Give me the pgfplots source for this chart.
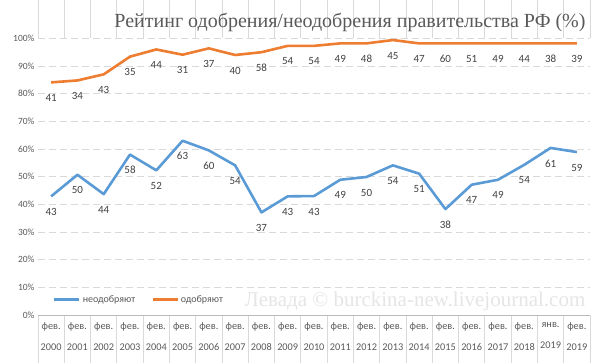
\documentclass[border=0pt]{standalone}
\usepackage{pgfplots}
\pgfplotsset{compat=1.18}
\usepackage{pgfplotstable}
\usetikzlibrary{calc}
\usepackage{fontspec}
\setmainfont{Carlito}
\newfontfamily\titlefont{Liberation Serif}
\definecolor{cblue}{HTML}{5B9BD5}
\definecolor{corange}{HTML}{ED7D31}
\definecolor{txt}{HTML}{595959}
\definecolor{lbl}{HTML}{404040}
\definecolor{gridc}{HTML}{D9D9D9}
\pgfplotstableread{
x oy ol by bl
0 84.1 41 42.9 43
1 84.8 34 50.7 50
2 87.0 43 43.7 44
3 93.4 35 58.0 58
4 96.0 44 52.3 52
5 94.1 31 63.0 63
6 96.4 37 59.5 60
7 94.0 40 54.1 54
8 95.0 58 37.1 37
9 97.3 54 42.9 43
10 97.3 54 43.0 43
11 98.2 49 48.9 49
12 98.2 48 49.9 50
13 99.4 45 54.1 54
14 98.2 47 51.1 51
15 98.2 60 38.3 38
16 98.2 51 47.1 47
17 98.2 49 48.9 49
18 98.2 44 54.3 54
19 98.2 38 60.4 61
20 98.2 39 58.9 59
}\datatable
\begin{document}
\begin{tikzpicture}
\begin{axis}[
  name=ax,
  scale only axis,
  width=552pt, height=276.6pt,
  xmin=-0.5, xmax=20.5, ymin=0, ymax=100,
  axis line style={draw=none},
  ytick={0,10,...,100},
  yticklabel={\pgfmathprintnumber{\tick}\%},
  /pgf/number format/assume math mode=true,
  yticklabel style={font=\fontsize{9.5}{11}\selectfont, text=txt},
  ymajorgrids,
  major grid style={gridc, dash pattern=on 7pt off 4pt, line width=0.8pt},
  major tick length=0pt,
  xtick={0,...,20},
  xticklabels={{фев.\\2000},{фев.\\2001},{фев.\\2002},{фев.\\2003},{фев.\\2004},{фев.\\2005},{фев.\\2006},{фев.\\2007},{фев.\\2008},{фев.\\2009},{фев.\\2010},{фев.\\2011},{фев.\\2012},{фев.\\2013},{фев.\\2014},{фев.\\2015},{фев.\\2016},{фев.\\2017},{фев.\\2018},{янв.\\2019},{фев.\\2019}},
  xticklabel style={align=center, font=\fontsize{10.3}{21}\selectfont, text=txt, yshift=-4pt},
  extra x ticks={-0.5,0.5,...,20.5},
  extra x tick labels={},
  extra x tick style={grid=none, major tick length=48pt, tick align=outside, tick style={draw=gridc, line width=0.8pt}},
  legend style={at={(0,0.055)}, anchor=west, xshift=12pt, draw=none, fill=none,
     font=\fontsize{10}{12}\selectfont, text=txt, legend columns=2,
     /tikz/every even column/.append style={column sep=14pt}},
  legend image code/.code={\draw[#1] (0pt,0pt) -- (25pt,0pt);},
  point meta=explicit symbolic,
  nodes near coords,
  every node near coord/.append style={anchor=center, yshift=-15.5pt, font=\fontsize{11}{13}\selectfont, text=lbl},
  clip=false,
]
\draw[gray!55, line width=0.8pt] (rel axis cs:0,0) -- (rel axis cs:1,0);
\addplot[cblue, line width=2.6pt, line join=round] table[x=x, y=by, meta=bl] {\datatable};
\addlegendentry{неодобряют}
\addplot[corange, line width=2.6pt, line join=round] table[x=x, y=oy, meta=ol] {\datatable};
\addlegendentry{одобряют}
\end{axis}
\node[anchor=base, font=\titlefont\fontsize{20}{24}\selectfont, text=txt] at ($(ax.south west)+(312pt,287.5pt)$) {Рейтинг одобрения/неодобрения правительства РФ (\%)};
\node[anchor=base, font=\titlefont\fontsize{21}{24}\selectfont, text=black!10] at ($(ax.south west)+(377pt,8pt)$) {Левада © burckina-new.livejournal.com};
\pgfresetboundingbox
\path[use as bounding box] ($(ax.south west)+(-38pt,-49pt)$) rectangle +(600pt,364pt);
\end{tikzpicture}
\end{document}
